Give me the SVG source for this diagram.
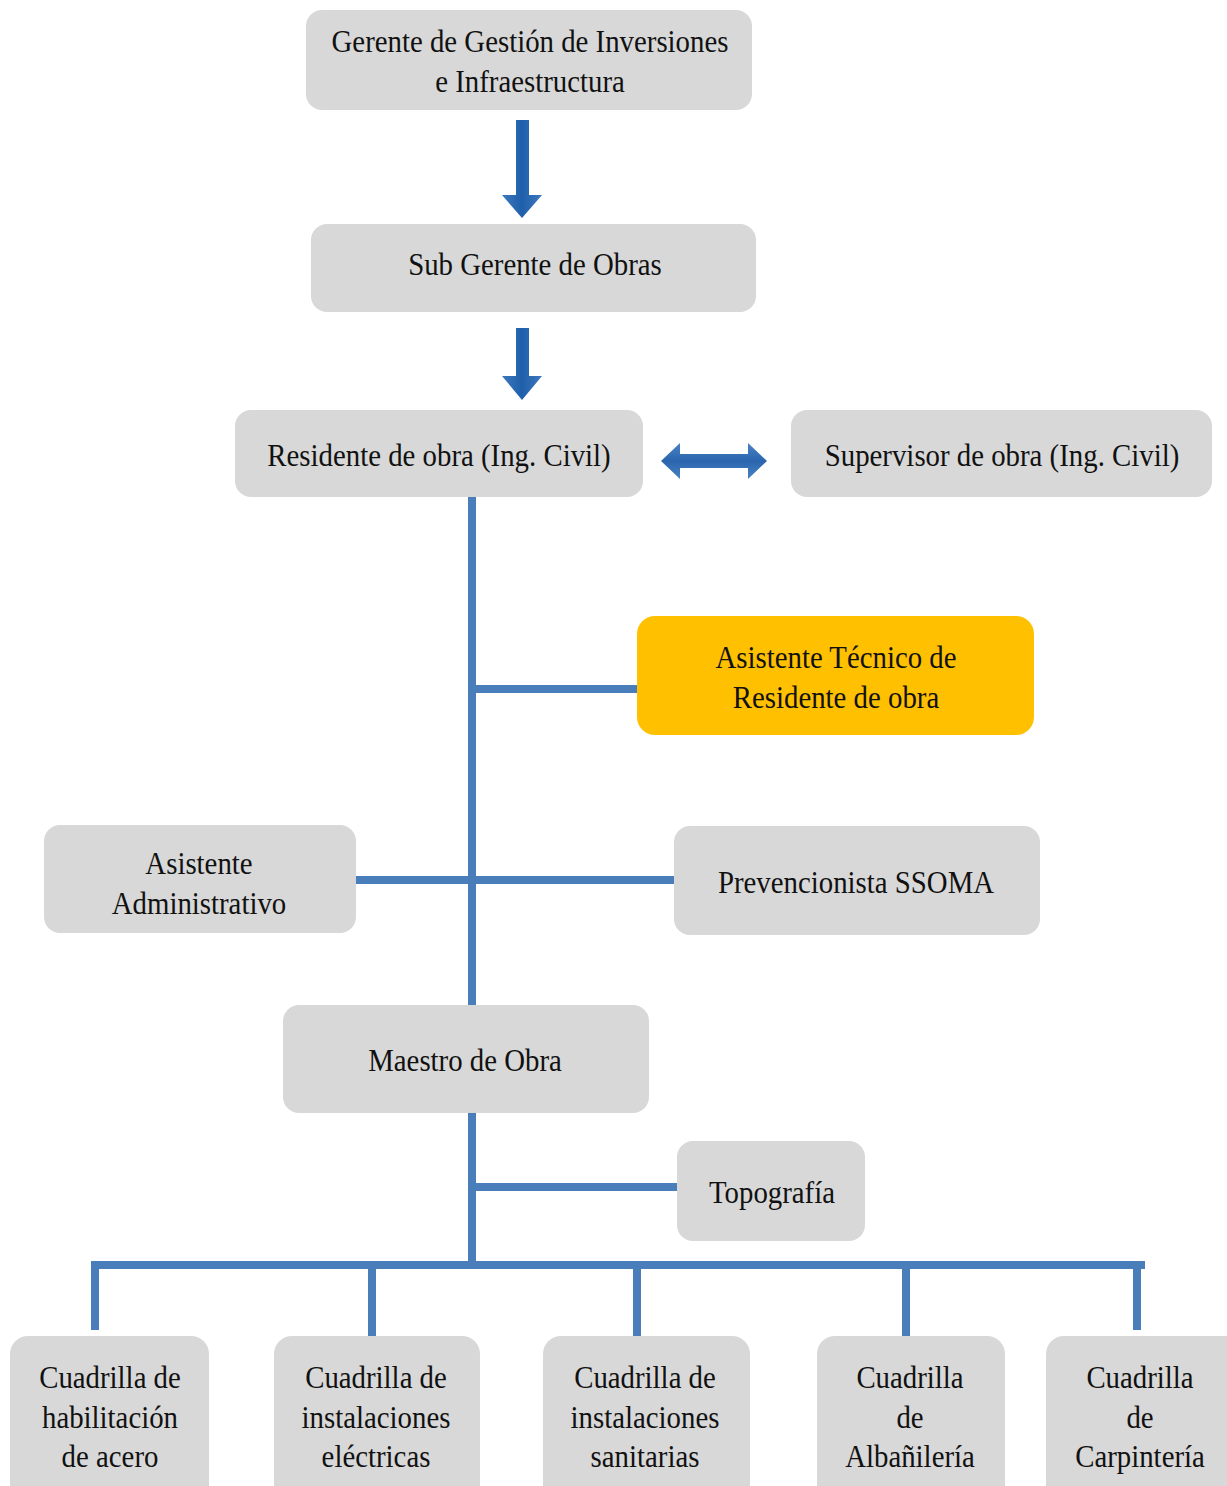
<svg xmlns="http://www.w3.org/2000/svg" width="1227" height="1486" viewBox="0 0 1227 1486">
<style>
.box{fill:#D8D8D8;}
.gold{fill:#FFC000;}
.t{font-family:'Liberation Serif','Times New Roman',serif;font-size:31px;fill:#111;text-anchor:middle;}
.ln{stroke:#4A7EBB;stroke-width:8;fill:none;}
</style>
<defs>
<linearGradient id="ag" x1="0" y1="0" x2="1" y2="0">
<stop offset="0" stop-color="#3D78BE"/>
<stop offset="0.5" stop-color="#1F5FAA"/>
<stop offset="1" stop-color="#3D78BE"/>
</linearGradient>
<linearGradient id="hg" x1="0" y1="0" x2="0" y2="1">
<stop offset="0" stop-color="#4A82C4"/>
<stop offset="0.5" stop-color="#2A65AE"/>
<stop offset="1" stop-color="#4A82C4"/>
</linearGradient>
</defs>
<rect width="1227" height="1486" fill="#fff"/>
<g id="connectors">
<path fill="url(#ag)" d="M516,120 H529 V195 H542 L522,218 L502,195 H516 Z"/>
<path fill="url(#ag)" d="M516,328 H529 V376 H542 L522,400 L502,376 H516 Z"/>
<path fill="url(#hg)" d="M661,461 L680,443 V454 H748 V443 L767,461 L748,479 V468 H680 V479 Z"/>
<line class="ln" x1="472" y1="497" x2="472" y2="1005"/>
<line class="ln" x1="472" y1="689" x2="637" y2="689"/>
<line class="ln" x1="356" y1="880" x2="674" y2="880"/>
<line class="ln" x1="472" y1="1113" x2="472" y2="1265"/>
<line class="ln" x1="472" y1="1187" x2="677" y2="1187"/>
<line class="ln" x1="91" y1="1265" x2="1145" y2="1265"/>
<line class="ln" x1="95" y1="1265" x2="95" y2="1330"/>
<line class="ln" x1="372" y1="1265" x2="372" y2="1336"/>
<line class="ln" x1="637" y1="1265" x2="637" y2="1336"/>
<line class="ln" x1="906" y1="1265" x2="906" y2="1336"/>
<line class="ln" x1="1137" y1="1265" x2="1137" y2="1330"/>
</g>
<g id="n-gerente">
<rect class="box" x="306" y="10" width="446" height="100" rx="16"/>
<text class="t" transform="translate(530,52) scale(0.93,1)">Gerente de Gestión de Inversiones</text>
<text class="t" transform="translate(530,92) scale(0.93,1)">e Infraestructura</text>
</g>
<g id="n-subgerente">
<rect class="box" x="311" y="224" width="445" height="88" rx="16"/>
<text class="t" transform="translate(535,275) scale(0.93,1)">Sub Gerente de Obras</text>
</g>
<g id="n-residente">
<rect class="box" x="235" y="410" width="408" height="87" rx="16"/>
<text class="t" transform="translate(439,466) scale(0.93,1)">Residente de obra (Ing. Civil)</text>
</g>
<g id="n-supervisor">
<rect class="box" x="791" y="410" width="421" height="87" rx="16"/>
<text class="t" transform="translate(1002,466) scale(0.93,1)">Supervisor de obra (Ing. Civil)</text>
</g>
<g id="n-asistente-tecnico">
<rect class="gold" x="637" y="616" width="397" height="119" rx="18"/>
<text class="t" transform="translate(836,668) scale(0.93,1)">Asistente Técnico de</text>
<text class="t" transform="translate(836,708) scale(0.93,1)">Residente de obra</text>
</g>
<g id="n-asistente-admin">
<rect class="box" x="44" y="825" width="312" height="108" rx="16"/>
<text class="t" transform="translate(199,874) scale(0.93,1)">Asistente</text>
<text class="t" transform="translate(199,914) scale(0.93,1)">Administrativo</text>
</g>
<g id="n-prevencionista">
<rect class="box" x="674" y="826" width="366" height="109" rx="16"/>
<text class="t" transform="translate(856,893) scale(0.93,1)">Prevencionista SSOMA</text>
</g>
<g id="n-maestro">
<rect class="box" x="283" y="1005" width="366" height="108" rx="16"/>
<text class="t" transform="translate(465,1071) scale(0.93,1)">Maestro de Obra</text>
</g>
<g id="n-topografia">
<rect class="box" x="677" y="1141" width="188" height="100" rx="16"/>
<text class="t" transform="translate(772,1203) scale(0.93,1)">Topografía</text>
</g>
<g id="n-acero">
<rect class="box" x="10" y="1336" width="199" height="170" rx="18"/>
<text class="t" transform="translate(110,1388) scale(0.93,1)">Cuadrilla de</text>
<text class="t" transform="translate(110,1428) scale(0.93,1)">habilitación</text>
<text class="t" transform="translate(110,1467) scale(0.93,1)">de acero</text>
</g>
<g id="n-electricas">
<rect class="box" x="274" y="1336" width="206" height="170" rx="18"/>
<text class="t" transform="translate(376,1388) scale(0.93,1)">Cuadrilla de</text>
<text class="t" transform="translate(376,1428) scale(0.93,1)">instalaciones</text>
<text class="t" transform="translate(376,1467) scale(0.93,1)">eléctricas</text>
</g>
<g id="n-sanitarias">
<rect class="box" x="543" y="1336" width="207" height="170" rx="18"/>
<text class="t" transform="translate(645,1388) scale(0.93,1)">Cuadrilla de</text>
<text class="t" transform="translate(645,1428) scale(0.93,1)">instalaciones</text>
<text class="t" transform="translate(645,1467) scale(0.93,1)">sanitarias</text>
</g>
<g id="n-albanileria">
<rect class="box" x="817" y="1336" width="188" height="170" rx="18"/>
<text class="t" transform="translate(910,1388) scale(0.93,1)">Cuadrilla</text>
<text class="t" transform="translate(910,1428) scale(0.93,1)">de</text>
<text class="t" transform="translate(910,1467) scale(0.93,1)">Albañilería</text>
</g>
<g id="n-carpinteria">
<rect class="box" x="1046" y="1336" width="200" height="170" rx="18"/>
<text class="t" transform="translate(1140,1388) scale(0.93,1)">Cuadrilla</text>
<text class="t" transform="translate(1140,1428) scale(0.93,1)">de</text>
<text class="t" transform="translate(1140,1467) scale(0.93,1)">Carpintería</text>
</g>
</svg>
